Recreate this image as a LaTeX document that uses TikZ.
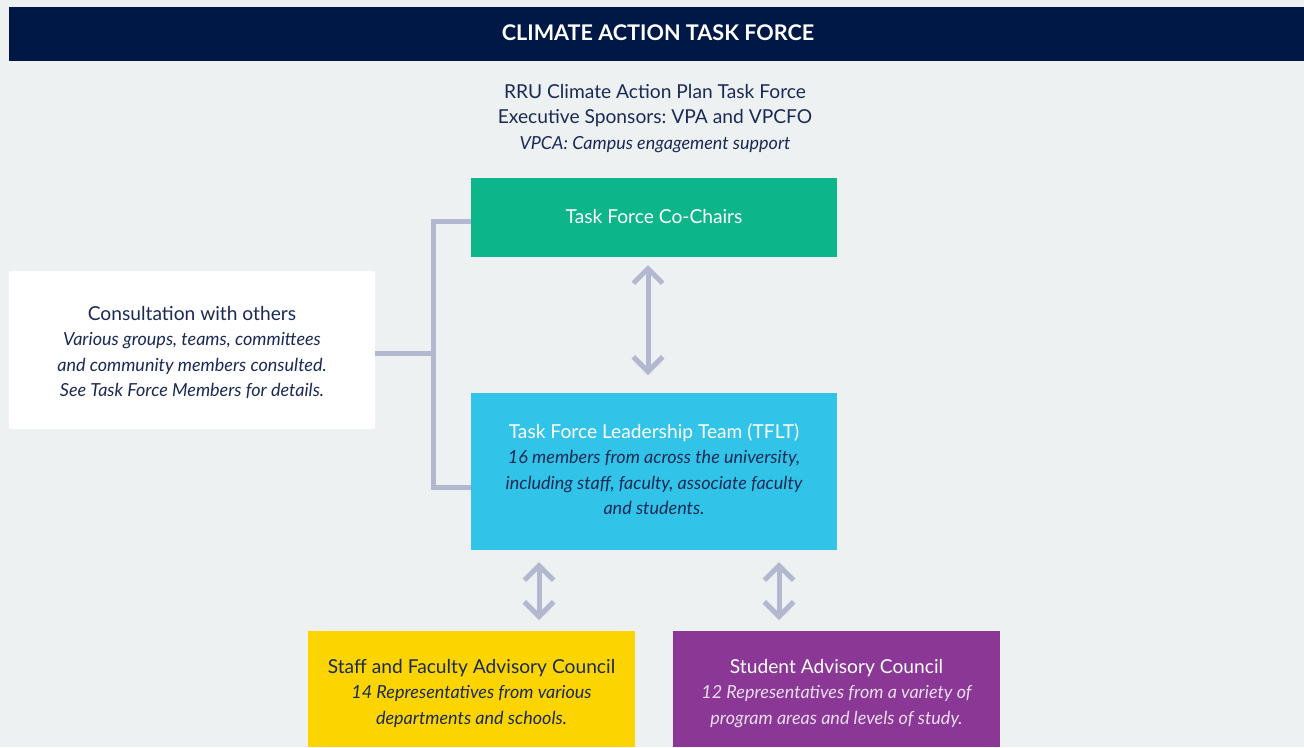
\documentclass[tikz,border=0pt]{standalone}
\usepackage{fontspec}
\setmainfont{Lato}
\usetikzlibrary{arrows.meta,calc}
\definecolor{bg}{HTML}{EDF1F2}
\definecolor{navy}{HTML}{001845}
\definecolor{txtnavy}{HTML}{1B2A55}
\definecolor{cgreen}{HTML}{0DB58B}
\definecolor{cblue}{HTML}{31C3E8}
\definecolor{cyellow}{HTML}{FCD500}
\definecolor{cpurple}{HTML}{8A3795}
\definecolor{cline}{HTML}{B3B8D0}
\definecolor{lightpink}{HTML}{EBDDF0}
\newcommand{\upsz}{\fontsize{14.4pt}{19.1pt}\selectfont\upshape}
\newcommand{\itsz}{\fontsize{13.5pt}{19.1pt}\selectfont\itshape}
\tikzset{
  box/.style={inner sep=0pt, outer sep=0pt},
  conn/.style={draw=cline, line width=3.75pt},
  dblarrow/.style={conn, {Straight Barb[length=11pt,width=22pt]}-{Straight Barb[length=11pt,width=22pt]}},
  txt/.style={align=center, font=\frenchspacing\fontsize{14.4pt}{19.1pt}\selectfont, inner sep=0pt}
}
\begin{document}
\begin{tikzpicture}[x=0.75pt,y=-0.75pt]
\useasboundingbox (0,0) rectangle (1304,747);
\fill[bg] (0,0) rectangle (1304,747);
% title bar
\fill[navy] (9,7) rectangle (1304,61);
\node[txt, text=white, font=\bfseries\fontsize{16.2pt}{20pt}\selectfont] (title) at (658,33) {CLIMATE ACTION TASK FORCE};
% header
\node[txt, text=txtnavy, anchor=north] (header) at (655,84) {RRU Climate Action Plan Task Force\\Executive Sponsors: VPA and VPCFO\\\itsz VPCA: Campus engagement support};
% boxes
\path[fill=cgreen] (471,178) rectangle (837,257);
\node[box, minimum width=366*0.75pt, minimum height=79*0.75pt] (cochairs) at (654,217.5) {};
\node[txt, text=white] (cochairstxt) at (654,217) {Task Force Co-Chairs};

\path[fill=cblue] (471,393) rectangle (837,550);
\node[box, minimum width=366*0.75pt, minimum height=157*0.75pt] (tflt) at (654,471.5) {};
\node[txt, text=white, anchor=north] (tflttxt) at (654,423) {Task Force Leadership Team (TFLT)\\\color{txtnavy}\itsz 16 members from across the university,\\\color{txtnavy}\itsz including staff, faculty, associate faculty\\\color{txtnavy}\itsz and students.};

\path[fill=white] (9,271) rectangle (375,429);
\node[box, minimum width=366*0.75pt, minimum height=158*0.75pt] (consult) at (192,350) {};
\node[txt, text=txtnavy, anchor=north] (consulttxt) at (192,306) {Consultation with others\\\itsz Various groups, teams, committees\\\itsz and community members consulted.\\\itsz See Task Force Members for details.};

\path[fill=cyellow] (308,631) rectangle (635,747);
\node[box, minimum width=327*0.75pt, minimum height=116*0.75pt] (staff) at (471.5,689) {};
\node[txt, text=txtnavy, anchor=north] (stafftxt) at (471.5,659) {Staff and Faculty Advisory Council\\\itsz 14 Representatives from various\\\itsz departments and schools.};

\path[fill=cpurple] (673,631) rectangle (1000,747);
\node[box, minimum width=327*0.75pt, minimum height=116*0.75pt] (student) at (836.5,689) {};
\node[txt, text=white, anchor=north] (studenttxt) at (836.5,659) {Student Advisory Council\\\color{lightpink}\itsz 12 Representatives from a variety of\\\color{lightpink}\itsz program areas and levels of study.};

% bracket connectors
\coordinate (bTop) at (433,221);
\coordinate (bBot) at (433,487);
\coordinate (bMid) at (433,353);
\draw[conn, line join=miter] (cochairs.west |- bTop) -- (bTop) -- (bBot) -- (tflt.west |- bBot);
\draw[conn] (consult.east |- bMid) -- (bMid);

% arrows
\draw[dblarrow, shorten <=8*0.75pt, shorten >=18*0.75pt] (cochairs.south -| 648,0) -- (tflt.north -| 648,0);
\draw[dblarrow, shorten <=12*0.75pt, shorten >=11*0.75pt] (tflt.south -| 539,0) -- (staff.north -| 539,0);
\draw[dblarrow, shorten <=12*0.75pt, shorten >=11*0.75pt] (tflt.south -| 779,0) -- (student.north -| 779,0);
\end{tikzpicture}
\end{document}
